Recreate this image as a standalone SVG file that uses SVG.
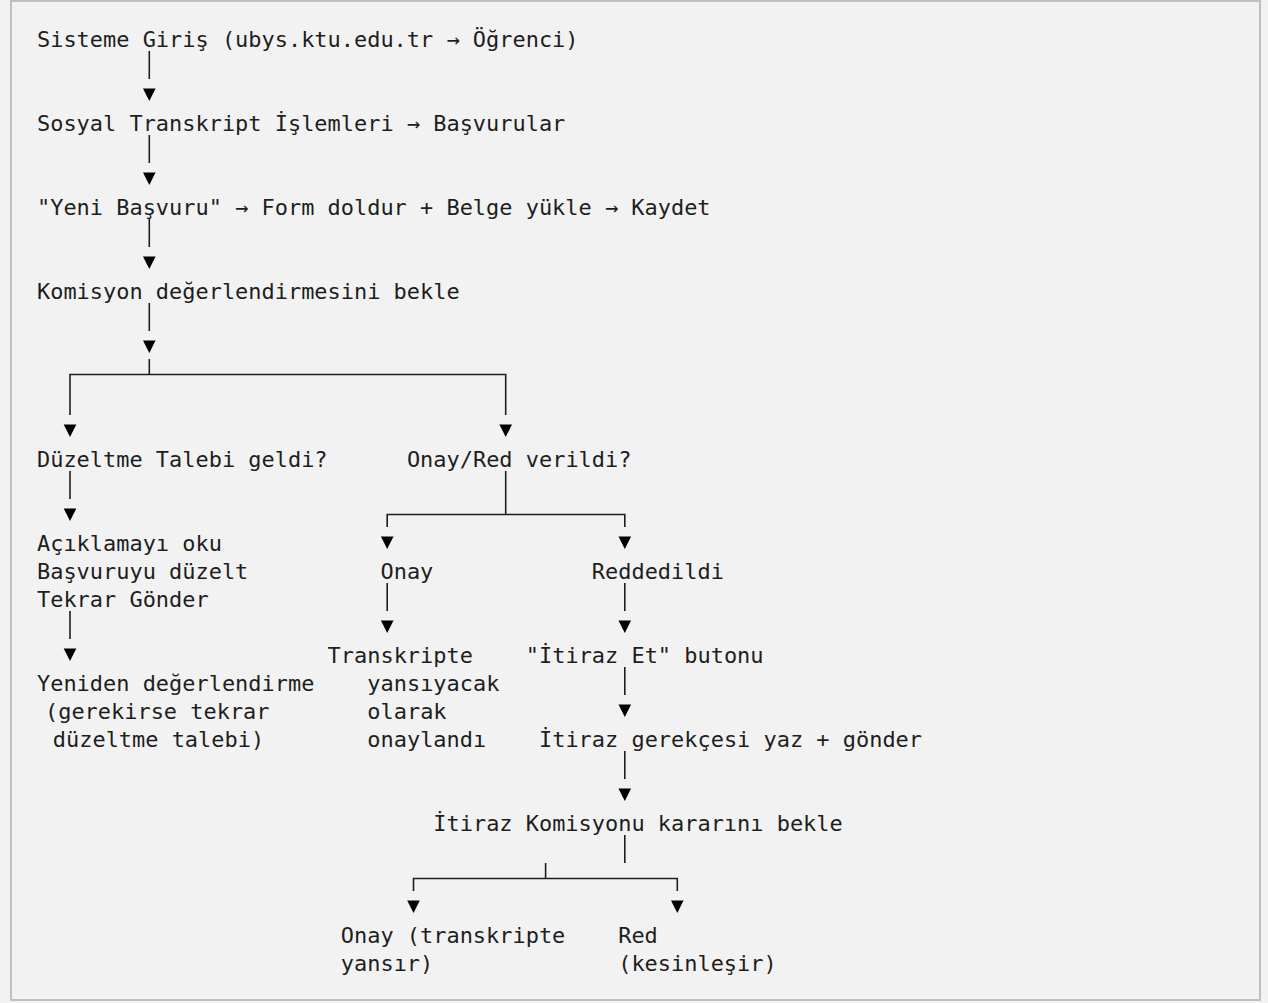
<svg xmlns="http://www.w3.org/2000/svg" width="1268" height="1003" viewBox="0 0 1268 1003">
<style>
text{font-family:"DejaVu Sans Mono","Liberation Mono",monospace;font-size:21.94px;fill:#1e1e1e;white-space:pre}
.c line,.c path{stroke:#1e1e1e;stroke-width:1.6;fill:none}
.c polygon{fill:#1e1e1e}
</style>
<defs>
<polygon id="tri" points="-6.3,-7.5 6.3,-7.5 0,5"/>
</defs>
<rect x="0" y="0" width="1268" height="1003" fill="#f2f2f2"/>
<rect x="11" y="1" width="1249" height="999" fill="#f2f2f2" stroke="#bfbfbf" stroke-width="2"/>

<g id="n-giris"><text x="37" y="47">Sisteme Giriş (ubys.ktu.edu.tr → Öğrenci)</text></g>
<g id="n-sosyal"><text x="37" y="131">Sosyal Transkript İşlemleri → Başvurular</text></g>
<g id="n-yeni"><text x="37" y="215">"Yeni Başvuru" → Form doldur + Belge yükle → Kaydet</text></g>
<g id="n-komisyon"><text x="37" y="299">Komisyon değerlendirmesini bekle</text></g>
<g id="n-duzeltme"><text x="37" y="467">Düzeltme Talebi geldi?</text></g>
<g id="n-onayred"><text x="406.9" y="467">Onay/Red verildi?</text></g>
<g id="n-aciklama"><text x="37" y="551">Açıklamayı oku</text><text x="37" y="579">Başvuruyu düzelt</text><text x="37" y="607">Tekrar Gönder</text></g>
<g id="n-onay"><text x="380.5" y="579">Onay</text></g>
<g id="n-red"><text x="591.8" y="579">Reddedildi</text></g>
<g id="n-yeniden"><text x="37" y="691">Yeniden değerlendirme</text><text x="45" y="719">(gerekirse tekrar</text><text x="52.8" y="747">düzeltme talebi)</text></g>
<g id="n-transkripte"><text x="327.6" y="663">Transkripte</text><text x="367.3" y="691">yansıyacak</text><text x="367.3" y="719">olarak</text><text x="367.3" y="747">onaylandı</text></g>
<g id="n-itirazet"><text x="525.8" y="663">"İtiraz Et" butonu</text></g>
<g id="n-gerekce"><text x="539" y="747">İtiraz gerekçesi yaz + gönder</text></g>
<g id="n-itirazkom"><text x="433.3" y="831">İtiraz Komisyonu kararını bekle</text></g>
<g id="n-sonuconay"><text x="340.8" y="943">Onay (transkripte</text><text x="340.8" y="971">yansır)</text></g>
<g id="n-sonucred"><text x="618.2" y="943">Red</text><text x="618.2" y="971">(kesinleşir)</text></g>

<g id="connectors" class="c">
<!-- col 8 chain -->
<line x1="149.3" y1="51" x2="149.3" y2="79"/>
<use href="#tri" x="149.3" y="96"/>
<line x1="149.3" y1="135" x2="149.3" y2="163"/>
<use href="#tri" x="149.3" y="180"/>
<line x1="149.3" y1="219" x2="149.3" y2="247"/>
<use href="#tri" x="149.3" y="264"/>
<line x1="149.3" y1="303" x2="149.3" y2="331"/>
<use href="#tri" x="149.3" y="348"/>
<!-- split 1, row 12 -->
<line x1="149.3" y1="359" x2="149.3" y2="374.5"/>
<path d="M70.0,415 V374.5 H505.7 V415"/>
<use href="#tri" x="70.0" y="432"/>
<use href="#tri" x="505.7" y="432"/>
<!-- left branch -->
<line x1="70.0" y1="471" x2="70.0" y2="499"/>
<use href="#tri" x="70.0" y="516"/>
<line x1="70.0" y1="611" x2="70.0" y2="639"/>
<use href="#tri" x="70.0" y="656"/>
<!-- right branch split row 17 -->
<line x1="505.7" y1="471" x2="505.7" y2="514.5"/>
<path d="M387.2,527 V514.5 H624.8 V527"/>
<use href="#tri" x="387.2" y="544"/>
<use href="#tri" x="624.8" y="544"/>
<line x1="387.2" y1="583" x2="387.2" y2="611"/>
<use href="#tri" x="387.2" y="628"/>
<line x1="624.8" y1="583" x2="624.8" y2="611"/>
<use href="#tri" x="624.8" y="628"/>
<line x1="624.8" y1="667" x2="624.8" y2="695"/>
<use href="#tri" x="624.8" y="712"/>
<line x1="624.8" y1="751" x2="624.8" y2="779"/>
<use href="#tri" x="624.8" y="796"/>
<line x1="624.8" y1="835" x2="624.8" y2="863"/>
<!-- split row 30 -->
<line x1="545.6" y1="863" x2="545.6" y2="878.5"/>
<path d="M413.5,891 V878.5 H677.3 V891"/>
<use href="#tri" x="413.5" y="908"/>
<use href="#tri" x="677.3" y="908"/>
</g>
</svg>
